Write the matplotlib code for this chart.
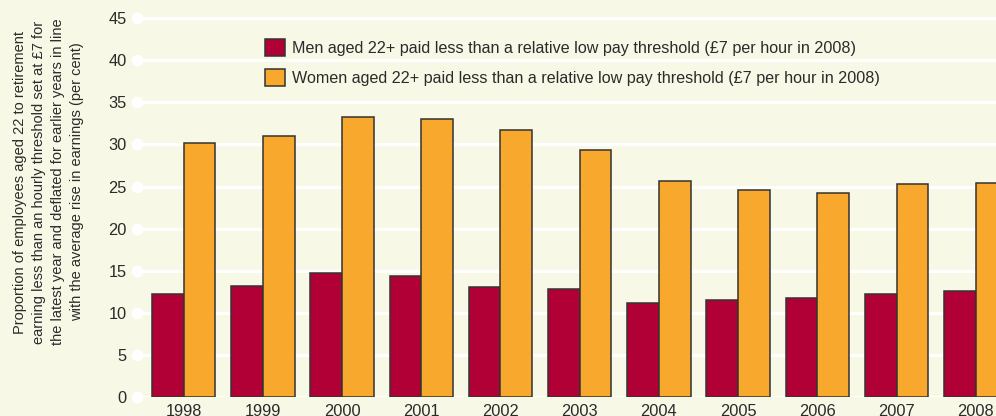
import matplotlib.pyplot as plt
import numpy as np

plt.rcParams['font.family'] = ['Liberation Sans', 'DejaVu Sans']

years = ['1998', '1999', '2000', '2001', '2002', '2003',
         '2004', '2005', '2006', '2007', '2008']
men = [12.2, 13.2, 14.7, 14.3, 13.0, 12.8, 11.2, 11.5, 11.7, 12.2, 12.6]
women = [30.2, 31.0, 33.3, 33.0, 31.7, 29.3, 25.7, 24.6, 24.2, 25.3, 25.4]
y_ticks = [0, 5, 10, 15, 20, 25, 30, 35, 40, 45]

men_label = 'Men aged 22+ paid less than a relative low pay threshold (£7 per hour in 2008)'
women_label = 'Women aged 22+ paid less than a relative low pay threshold (£7 per hour in 2008)'
y_label = ('Proportion of employees aged 22 to retirement\n'
           'earning less than an hourly threshold set at £7 for\n'
           'the latest year and deflated for earlier years in line\n'
           'with the average rise in earnings (per cent)')

bg = '#F7F8E6'
men_col = '#B00036'
women_col = '#F9A82E'
text_col = '#2b2b2b'

fig = plt.figure(figsize=(9.96, 4.16), dpi=100, facecolor=bg)
ax = fig.add_axes([0.1372, 0.0464, 0.8628, 0.9296], facecolor=bg)

x = np.arange(len(years))
w = 0.4

# white gridlines with a round cap on the left
for t in y_ticks:
    ax.axhline(t, color='white', lw=2.2, zorder=1)
ax.plot([-0.593] * len(y_ticks), y_ticks, 'o', color='white', ms=7.5,
        clip_on=False, zorder=2)

ax.bar(x - w / 2, men, w, color=men_col, edgecolor='#333333', lw=1.1,
       zorder=3, label=men_label)
ax.bar(x + w / 2, women, w, color=women_col, edgecolor='#333333', lw=1.1,
       zorder=3, label=women_label)

ax.set_xlim(-0.593, 10.256)
ax.set_ylim(0, 46)
ax.set_xticks(x)
ax.set_xticklabels(years)
ax.set_yticks(y_ticks)
ax.tick_params(axis='both', length=0, labelsize=11.8, colors=text_col)
ax.tick_params(axis='y', pad=7)
ax.tick_params(axis='x', pad=5)
for s in ax.spines.values():
    s.set_visible(False)

fig.text(0.0487, 0.5625, y_label, rotation=90, ha='center', va='center',
         fontsize=10.5, color=text_col, linespacing=1.45)

leg = ax.legend(loc='upper left', bbox_to_anchor=(0.14, 0.945), frameon=False,
                fontsize=11.6, handlelength=1.24, handleheight=1.24,
                handletextpad=0.45, labelspacing=0.8, borderpad=0)
for txt in leg.get_texts():
    txt.set_color(text_col)

plt.savefig('out.png', dpi=100, facecolor=bg)
